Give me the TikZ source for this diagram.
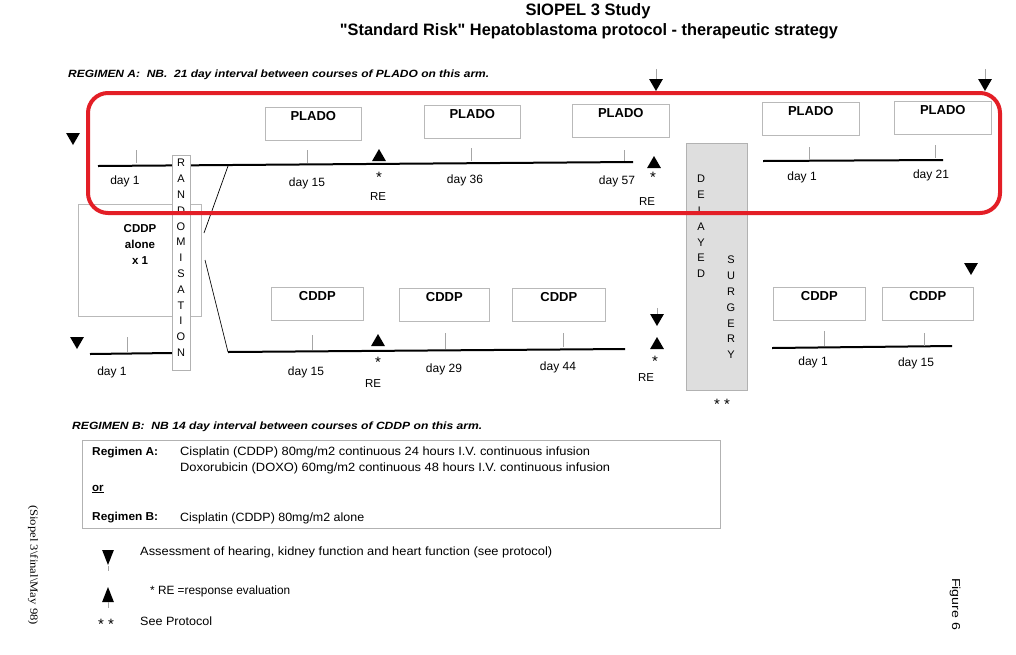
\documentclass[tikz,border=0pt]{standalone}
\usepackage{fontspec}
\setmainfont{Liberation Sans}
\newfontfamily\sideserif{Liberation Serif}
\usetikzlibrary{shapes.geometric}
\newcommand{\fitw}[2]{\resizebox{#1}{\height}{#2}}
\newcommand{\sq}{\XeTeXglyph\the\XeTeXcharglyph"22\relax}
\definecolor{redframe}{HTML}{E31E26}
\begin{document}
\begin{tikzpicture}[x=1pt,y=-1pt,
  tline/.style={line width=2pt, black},
  tick/.style={gray!70, line width=0.6pt},
  dayl/.style={font=\fontsize{12}{13}\selectfont, inner sep=0},
  drug/.style={draw=gray!55, line width=0.6pt, anchor=north west, inner xsep=0pt,
     inner ysep=3.5pt, text height=10pt, text depth=16pt, minimum height=33pt,
     font=\bfseries\fontsize{13}{15}\selectfont},
  downtri/.style={regular polygon, regular polygon sides=3, shape border rotate=180,
     fill=black, inner sep=0pt, minimum size=16pt},
  uptri/.style={regular polygon, regular polygon sides=3,
     fill=black, inner sep=0pt, minimum size=16pt},
  legtri/.style={xscale=0.85, yscale=1.25, transform shape},
  ast/.style={font=\fontsize{15}{15}\selectfont, inner sep=0},
  rel/.style={font=\fontsize{11.5}{13}\selectfont, inner sep=0},
  lett/.style={align=center, inner sep=0, font=\fontsize{11}{15.8}\selectfont},
  txt/.style={inner sep=0, anchor=west},
]
\useasboundingbox (0,0) rectangle (1016,654);

% ---------- title ----------
\node[inner sep=0] (t1) at (588,11) {\fitw{125pt}{\bfseries\fontsize{16.5}{18}\selectfont SIOPEL 3 Study}};
\node[inner sep=0] (t2) at (589,31) {\fitw{498pt}{\bfseries\fontsize{16.5}{18}\selectfont \sq Standard Risk\sq{} Hepatoblastoma protocol - therapeutic strategy}};

\node[txt] (notea) at (68,75) {\fitw{421pt}{\bfseries\itshape\fontsize{10.5}{12}\selectfont REGIMEN A:\ \ NB.\ \ 21 day interval between courses of PLADO on this arm.}};
\node[txt] (noteb) at (72,427) {\fitw{410pt}{\bfseries\itshape\fontsize{10.5}{12}\selectfont REGIMEN B:\ \ NB 14 day interval between courses of CDDP on this arm.}};

% ---------- CDDP alone box ----------
\node[draw=gray!55, line width=0.6pt, minimum width=123pt, minimum height=112pt, inner sep=0] (alonebox) at (139.5,260) {};
\node[align=center, inner sep=0, font=\bfseries\fontsize{11.5}{16}\selectfont] (alonetxt) at (140,244) {CDDP\\alone\\x 1};

% ---------- timelines ----------
\coordinate (a0s) at (98,166);
\coordinate (a0e) at (633,162);
\coordinate (a2s) at (763,161);
\coordinate (a2e) at (943,160);
\coordinate (b0s) at (90,354);
\coordinate (b0e) at (172,353);
\coordinate (b1s) at (228,352);
\coordinate (b1e) at (625,349);
\coordinate (b2s) at (772,348);
\coordinate (b2e) at (952,346);
\coordinate (brA) at (228,166);
\coordinate (brAe) at (204,233);
\coordinate (brBs) at (205,260);

\draw[tline] (a0s) -- (a0e);
\draw[tline] (a2s) -- (a2e);
\draw[tline] (b0s) -- (b0e);
\draw[tline] (b1s) -- (b1e);
\draw[tline] (b2s) -- (b2e);
\draw[line width=0.7pt] (brA) -- (brAe);
\draw[line width=0.7pt] (brBs) -- (b1s);

% ---------- randomisation box ----------
\node[draw=gray!60, fill=white, line width=0.6pt, minimum width=18pt, minimum height=215pt, inner sep=0] (randbox) at (181,262.5) {};
\node[lett] (randtxt) at (181,258) {R\\A\\N\\D\\O\\M\\I\\S\\A\\T\\I\\O\\N};

% ---------- delayed surgery ----------
\node[draw=gray!60, fill=black!13, line width=0.6pt, minimum width=61pt, minimum height=247pt, inner sep=0] (surgbox) at (716.5,266.5) {};
\node[lett] (deltxt) at (701,226.5) {D\\E\\L\\A\\Y\\E\\D};
\node[lett] (surtxt) at (731,307.5) {S\\U\\R\\G\\E\\R\\Y};
\node[ast] (surgast) at (722,404) {* *};

% ---------- drug boxes, regimen A ----------
\node[drug, minimum width=96pt] (pa1) at (265,107) {PLADO};
\node[drug, minimum width=96pt] (pa2) at (424,105) {PLADO};
\node[drug, minimum width=97pt] (pa3) at (572,104) {PLADO};
\node[drug, minimum width=97pt] (pa4) at (762,102) {PLADO};
\node[drug, minimum width=97pt] (pa5) at (894,101) {PLADO};

% ---------- drug boxes, regimen B ----------
\node[drug, minimum width=92pt] (cb1) at (271,287) {CDDP};
\node[drug, minimum width=90pt] (cb2) at (399,288) {CDDP};
\node[drug, minimum width=93pt] (cb3) at (512,288) {CDDP};
\node[drug, minimum width=92pt] (cb4) at (773,287) {CDDP};
\node[drug, minimum width=91pt] (cb5) at (882,287) {CDDP};

% ---------- ticks ----------
\draw[tick] (136,150) -- (136,163);
\draw[tick] (307,150) -- (307,163);
\draw[tick] (471,148) -- (471,161);
\draw[tick] (624,150) -- (624,161);
\draw[tick] (809,147) -- (809,160);
\draw[tick] (935,145) -- (935,158);
\draw[tick] (127,337) -- (127,352);
\draw[tick] (312,335) -- (312,350);
\draw[tick] (445,333) -- (445,349);
\draw[tick] (563,333) -- (563,347);
\draw[tick] (824,331) -- (824,346);
\draw[tick] (924,333) -- (924,346);

% ---------- day labels ----------
\node[dayl] (da1) at (125,181) {day 1};
\node[dayl] (da15) at (307,183) {day 15};
\node[dayl] (da36) at (465,180) {day 36};
\node[dayl] (da57) at (617,181) {day 57};
\node[dayl] (da1b) at (802,177) {day 1};
\node[dayl] (da21) at (931,175) {day 21};
\node[dayl] (db1) at (112,372) {day 1};
\node[dayl] (db15) at (306,372) {day 15};
\node[dayl] (db29) at (444,369) {day 29};
\node[dayl] (db44) at (558,367) {day 44};
\node[dayl] (db1b) at (813,362) {day 1};
\node[dayl] (db15b) at (916,363) {day 15};

% ---------- triangles ----------
\node[downtri] (dA0) at (73,137) {};
\node[downtri] (dA1) at (656,83) {};
\node[downtri] (dA2) at (985,83) {};
\node[downtri] (dB0) at (77,341) {};
\node[downtri] (dB1) at (657,318) {};
\node[downtri] (dB2) at (971,267) {};
\draw[tick] (dA1.north) ++(0,-10) -- (dA1.north);
\draw[tick] (dA2.north) ++(0,-10) -- (dA2.north);
\draw[tick] (dB1.north) ++(0,-6) -- (dB1.north);

\node[uptri] (uA1) at (379,157) {};
\node[uptri] (uA2) at (654,164) {};
\node[uptri] (uB1) at (378,342) {};
\node[uptri] (uB2) at (657,345) {};

\node[ast] (sA1) at (379,177) {*};
\node[ast] (sA2) at (653,177) {*};
\node[ast] (sB1) at (378,362) {*};
\node[ast] (sB2) at (655,361) {*};
\node[rel] (rA1) at (378,197) {RE};
\node[rel] (rA2) at (647,202) {RE};
\node[rel] (rB1) at (373,384) {RE};
\node[rel] (rB2) at (646,378) {RE};

% ---------- regimen box ----------
\node[draw=gray!60, line width=0.6pt, minimum width=638pt, minimum height=88pt, inner sep=0] (regbox) at (401,484) {};
\node[txt] (ra) at (92,453) {\fitw{66pt}{\bfseries\fontsize{11.5}{13}\selectfont Regimen A:}};
\node[txt] (ra1) at (180,452) {\fitw{410pt}{\fontsize{12}{13}\selectfont Cisplatin (CDDP) 80mg/m2 continuous 24 hours I.V. continuous infusion}};
\node[txt] (ra2) at (180,468) {\fitw{430pt}{\fontsize{12}{13}\selectfont Doxorubicin (DOXO) 60mg/m2 continuous 48 hours I.V. continuous infusion}};
\node[txt] (ror) at (92,489) {\bfseries\fontsize{11.5}{13}\selectfont \underline{or}};
\node[txt] (rb) at (92,518) {\fitw{66pt}{\bfseries\fontsize{11.5}{13}\selectfont Regimen B:}};
\node[txt] (rb1) at (180,518) {\fitw{184pt}{\fontsize{12}{13}\selectfont Cisplatin (CDDP) 80mg/m2 alone}};

% ---------- legend ----------
\node[downtri, legtri] (ldn) at (108,555) {};
\draw[tick] (ldn.south) -- ++(0,5);
\node[txt] (ldntxt) at (140,552) {\fitw{412pt}{\fontsize{12}{13}\selectfont Assessment of hearing, kidney function and heart function (see protocol)}};
\node[uptri, legtri] (lup) at (108,597) {};
\draw[tick] (lup.south) -- ++(0,6);
\node[txt] (luptxt) at (150,591) {\fitw{140pt}{\fontsize{12}{13}\selectfont * RE =response evaluation}};
\node[ast] (last) at (106,624) {* *};
\node[txt] (lasttxt) at (140,621) {\fitw{72pt}{\fontsize{12}{13}\selectfont See Protocol}};

% ---------- side texts ----------
\node[inner sep=0, rotate=-90] (side) at (33,565) {\fitw{120pt}{\sideserif\fontsize{11}{12}\selectfont (Siopel 3\textbackslash final\textbackslash May 98)}};
\node[inner sep=0, rotate=-90] (fig) at (955,604) {\fitw{52pt}{\fontsize{11.5}{13}\selectfont Figure 6}};

% ---------- red frame ----------
\node[draw=redframe, line width=4pt, rounded corners=20pt, minimum width=912pt, minimum height=120pt, inner sep=0] (frame) at (544,153) {};
\end{tikzpicture}
\end{document}
